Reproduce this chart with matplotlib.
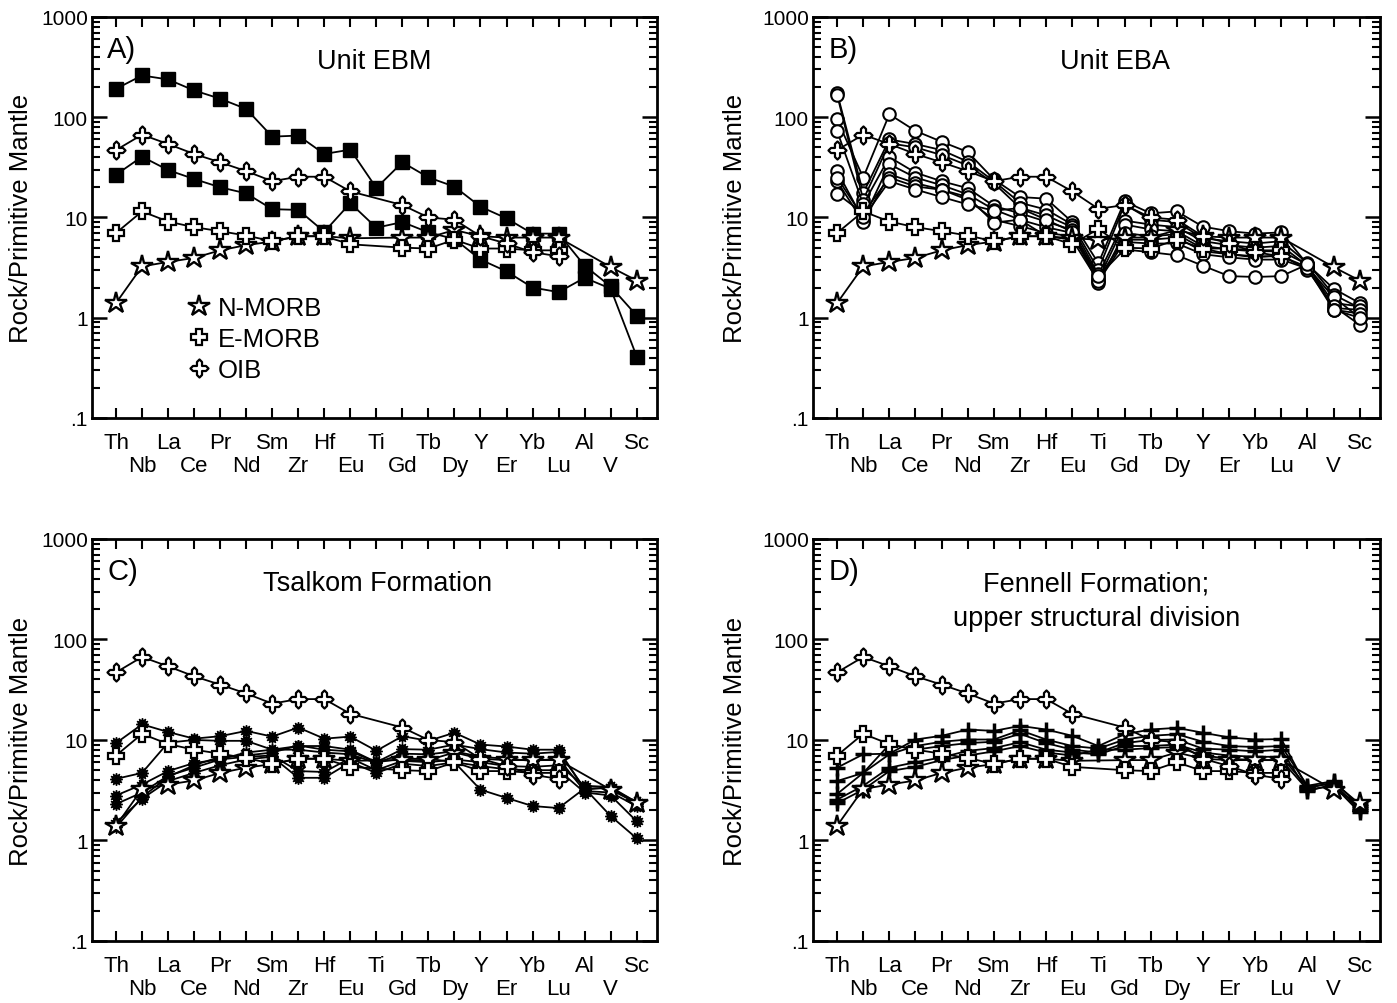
import numpy as np
import matplotlib
matplotlib.use("Agg")
import matplotlib.pyplot as plt
from matplotlib.path import Path
from matplotlib.lines import Line2D
from matplotlib.ticker import FixedLocator, FixedFormatter, LogLocator, NullFormatter

plt.rcParams['font.family'] = ['Liberation Sans', 'DejaVu Sans']

elements = ["Th", "Nb", "La", "Ce", "Pr", "Nd", "Sm", "Zr", "Hf", "Eu", "Ti",
            "Gd", "Tb", "Dy", "Y", "Er", "Yb", "Lu", "Al", "V", "Sc"]
nan = np.nan
TI = elements.index("Ti")

# reference patterns
n_morb = [1.4, 3.25, 3.6, 3.95, 4.7, 5.3, 5.75, 6.5, 6.5, 6.2, 6.0, 6.3, 6.3, 7.5, 6.5, 6.3, 6.3, 6.3, nan, 3.2, 2.35]
e_morb = [7.0, 11.5, 9.1, 8.0, 7.3, 6.6, 5.8, 6.5, 6.5, 5.4, 7.7, 5.0, 4.9, 6.0, 4.9, 4.9, 4.7, 4.7, nan, nan, nan]
oib = [47, 67, 54, 43, 35.5, 29, 23, 25.5, 25.5, 18.2, 12.2, 13.3, 10.0, 9.5, 6.5, 5.5, 4.5, 4.1, nan, nan, nan]

# A) Unit EBM
ebm_1 = [192, 261, 238, 185, 153, 121, 64, 65.6, 43, 47.5, 19.7, 35.5, 25.1, 20.3, 12.8, 9.8, 6.9, 6.9, 3.3, 2.05, 1.05]
ebm_2 = [26.7, 40.4, 29.7, 24.2, 20.0, 17.4, 12.1, 11.9, 7.2, 13.9, 7.9, 9.0, 7.1, 6.1, 3.8, 2.9, 2.0, 1.8, 2.5, 1.95, 0.41]

# B) Unit EBA
eba_1 = [95, 25, 107, 73, 57, 45, 24, 16, 15.4, 9.0, 3.5, 14.5, 11.0, 11.5, 8.1, 7.3, 6.9, 7.1, 3.4, 1.95, 1.4]
eba_2 = [175, 17.5, 60, 54, 47, 36, 23, 14, 12, 8.5, 3.0, 13.5, 9.5, 9.0, 6.2, 5.8, 5.5, 5.8, 3.5, 1.7, 1.25]
eba_3 = [168, 15, 55, 50, 42, 33, 22, 12.5, 10.5, 8.0, 2.7, 9.3, 8.5, 8.0, 5.8, 5.3, 5.0, 5.2, 3.3, 1.4, 1.3]
eba_4 = [73, 13.5, 40, 28, 23, 19.6, 13, 11, 9.1, 7.5, 2.4, 8.5, 7.6, 7.3, 5.2, 4.8, 4.6, 4.6, 3.4, 1.25, 1.2]
eba_5 = [29, 9.5, 34, 25, 21, 17, 12, 9.5, 8.0, 7.0, 2.2, 7.0, 6.5, 6.8, 4.9, 4.3, 4.1, 4.1, 3.2, 1.6, 1.0]
eba_6 = [23, 9.0, 27, 22, 19, 15, 9.5, 8.2, 7.0, 6.5, 2.5, 6.0, 6.0, 6.3, 4.6, 4.3, 4.0, 4.2, 3.0, 1.3, 0.85]
eba_7 = [17.3, 11, 25, 20.4, 18.9, 16, 8.9, 9.5, 6.5, 6.0, 2.3, 5.7, 5.5, 5.5, 4.3, 4.0, 3.8, 3.8, 3.1, 1.2, 1.1]
eba_8 = [25, 10, 23, 19, 16, 13.5, 11.7, 12.4, 9.5, 7.2, 2.6, 4.8, 4.5, 4.2, 3.3, 2.6, 2.55, 2.6, 3.4, 1.2, 1.0]

# C) Tsalkom Formation
tsk_1 = [9.3, 14.3, 12.0, 10.3, 10.9, 12.3, 10.8, 13.3, 10.3, 10.8, 7.8, 10.9, 9.8, 11.8, 9.0, 8.6, 8.0, 8.0, 3.2, 3.4, 2.3]
tsk_2 = [4.1, 4.7, 9.4, 10.0, 9.8, 9.8, 8.0, 8.7, 8.7, 8.0, 6.0, 8.1, 8.0, 9.0, 8.1, 7.5, 7.3, 7.6, 3.3, 3.3, 2.4]
tsk_3 = [2.8, 3.6, 4.9, 5.9, 6.4, 7.5, 8.0, 8.0, 7.5, 7.2, 5.9, 7.3, 7.2, 7.7, 6.8, 6.5, 6.2, 6.5, 3.1, 3.0, 2.2]
tsk_4 = [2.3, 3.0, 4.4, 5.3, 6.4, 6.8, 7.0, 4.9, 4.8, 6.6, 5.0, 6.2, 6.0, 6.4, 6.0, 5.5, 5.4, 5.6, 3.5, 3.4, 2.4]
tsk_5 = [1.5, 2.6, 3.9, 4.7, 5.6, 6.4, 6.8, 4.2, 4.2, 6.0, 4.7, 5.8, 5.5, 6.0, 5.5, 5.1, 5.0, 5.0, 3.0, 2.8, 1.55]
tsk_6 = [1.35, 2.7, 4.3, 5.6, 6.8, 7.0, 7.5, 8.8, 8.0, 7.7, 6.0, 6.5, 6.5, 6.0, 3.2, 2.65, 2.2, 2.1, 3.3, 1.75, 1.05]

# D) Fennell Formation, upper structural division
fen_1 = [5.3, 7.2, 7.3, 10.1, 11.0, 12.7, 12.3, 13.8, 12.7, 11.0, 8.7, 11.4, 12.7, 13.2, 11.8, 10.6, 10.1, 10.2, 3.3, 3.8, 2.3]
fen_2 = [3.9, 4.7, 7.2, 8.7, 9.6, 10.1, 10.1, 12.5, 10.1, 8.7, 8.2, 10.1, 11.0, 11.4, 9.6, 8.7, 8.5, 8.7, 3.5, 3.9, 2.2]
fen_3 = [2.9, 4.7, 9.0, 8.0, 8.7, 9.3, 9.6, 11.5, 9.3, 8.0, 7.5, 9.3, 10.0, 10.1, 8.2, 8.0, 7.7, 8.0, 3.1, 3.6, 2.1]
fen_4 = [2.55, 3.5, 5.3, 6.0, 6.7, 7.8, 8.3, 9.5, 8.0, 7.5, 7.2, 8.7, 8.7, 9.0, 7.5, 7.0, 6.8, 6.8, 3.4, 3.7, 2.0]
fen_5 = [2.35, 3.2, 4.9, 5.4, 6.3, 7.0, 7.7, 8.7, 7.5, 7.0, 8.0, 8.0, 8.3, 8.5, 7.0, 6.5, 6.3, 6.3, 3.2, 3.5, 1.9]

# pointed cross used for OIB
oib_marker = Path([(0, 1), (0.28, 0.72), (0.28, 0.28), (0.72, 0.28), (1, 0), (0.72, -0.28),
                   (0.28, -0.28), (0.28, -0.72), (0, -1), (-0.28, -0.72), (-0.28, -0.28),
                   (-0.72, -0.28), (-1, 0), (-0.72, 0.28), (-0.28, 0.28), (-0.28, 0.72), (0, 1)],
                  closed=True)

ref_style = {
    "N-MORB": dict(marker="*", ms=16, mfc="white", mec="black", mew=1.7),
    "E-MORB": dict(marker="P", ms=11, mfc="white", mec="black", mew=1.6),
    "OIB": dict(marker=oib_marker, ms=13, mfc="white", mec="black", mew=1.6),
}
refs = [("N-MORB", n_morb), ("E-MORB", e_morb), ("OIB", oib)]

x = np.arange(len(elements))


def draw(ax, vals, skip=(), z=2, **style):
    y = np.array(vals, float)
    ok = np.isfinite(y)
    for i in skip:
        ok[i] = False
    ax.plot(x[ok], y[ok], color="black", lw=1.3, zorder=z, **style)


def setup(ax, letter, title, title_x=0.5, title_y=0.89, label_x=-0.105):
    ax.set_yscale("log")
    ax.set_ylim(0.1, 1000)
    ax.set_xlim(-0.92, 20.78)
    ax.yaxis.set_major_locator(FixedLocator([0.1, 1, 10, 100, 1000]))
    ax.yaxis.set_major_formatter(FixedFormatter([".1", "1", "10", "100", "1000"]))
    ax.yaxis.set_minor_locator(LogLocator(base=10, subs=np.arange(2, 10)))
    ax.yaxis.set_minor_formatter(NullFormatter())
    # element names in two staggered rows: even ones as major, odd ones as minor ticks
    ax.set_xticks(x[::2])
    ax.set_xticklabels(elements[::2], fontsize=16)
    ax.set_xticks(x[1::2], minor=True)
    ax.set_xticklabels(elements[1::2], minor=True, fontsize=16)
    ax.tick_params(axis="x", which="both", direction="in", top=True, bottom=True,
                   length=7, width=1.5)
    ax.tick_params(axis="x", which="major", pad=10)
    ax.tick_params(axis="x", which="minor", pad=27)
    ax.tick_params(axis="y", which="major", direction="in", left=True, right=True,
                   length=11, width=1.8, labelsize=15, pad=3)
    ax.tick_params(axis="y", which="minor", direction="in", left=True, right=True,
                   length=6, width=1.5)
    for s in ax.spines.values():
        s.set_linewidth(2.0)
    ax.set_ylabel("Rock/Primitive Mantle", fontsize=18.5)
    ax.yaxis.set_label_coords(label_x, 0.5)
    ax.text(0.027, 0.955, letter, transform=ax.transAxes, fontsize=21, va="top", ha="left")
    ax.text(title_x, title_y, title, transform=ax.transAxes, fontsize=19.5, ha="center",
            va="center", linespacing=1.4)


fig = plt.figure(figsize=(13.97, 10.04), dpi=100)
axA = fig.add_axes([0.0659, 0.5827, 0.4044, 0.3994])
axB = fig.add_axes([0.5820, 0.5827, 0.4059, 0.3994])
axC = fig.add_axes([0.0659, 0.0618, 0.4044, 0.4004])
axD = fig.add_axes([0.5820, 0.0618, 0.4059, 0.4004])

# A
setup(axA, "A)", "Unit EBM")
for s in [ebm_1, ebm_2]:
    draw(axA, s, marker="s", ms=9.5, mfc="black", mec="black")
for name, vals in refs:
    draw(axA, vals, skip=[TI], z=3, **ref_style[name])
handles = [Line2D([], [], linestyle="none", **ref_style[n]) for n, _ in refs]
axA.legend(handles, [n for n, _ in refs], loc="center left", bbox_to_anchor=(0.166, 0.197),
           frameon=False, fontsize=18.5, handlelength=1.0, handletextpad=0.25,
           labelspacing=0.28, borderpad=0, borderaxespad=0)

# B
setup(axB, "B)", "Unit EBA", title_x=0.533, label_x=-0.116)
for s in [eba_1, eba_2, eba_3, eba_4, eba_5, eba_6, eba_7, eba_8]:
    draw(axB, s, marker="o", ms=9, mfc="white", mec="black", mew=1.5)
for name, vals in refs:
    draw(axB, vals, z=3, **ref_style[name])

# C
setup(axC, "C)", "Tsalkom Formation", title_x=0.506)
for s in [tsk_1, tsk_2, tsk_3, tsk_4, tsk_5, tsk_6]:
    draw(axC, s, marker=(12, 1, 0), ms=9, mfc="black", mec="black", mew=1.0)
for name, vals in refs:
    draw(axC, vals, skip=[TI], z=3, **ref_style[name])

# D
setup(axD, "D)", "Fennell Formation;\nupper structural division", title_y=0.846, label_x=-0.116)
for s in [fen_1, fen_2, fen_3, fen_4, fen_5]:
    draw(axD, s, marker="+", ms=11, mec="black", mew=2.5)
for name, vals in refs:
    draw(axD, vals, skip=[TI], z=3, **ref_style[name])

fig.savefig("out.png", dpi=100)
